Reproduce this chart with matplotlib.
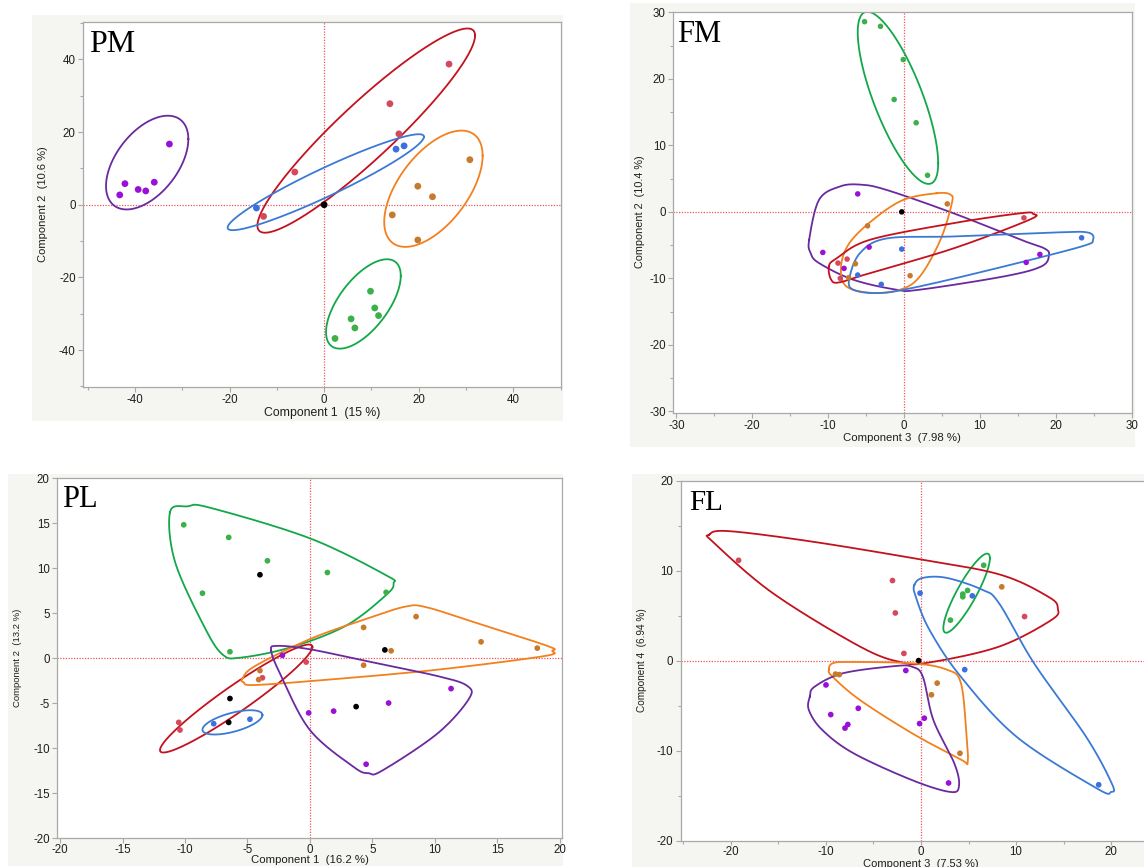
import numpy as np
import matplotlib
matplotlib.use("Agg")
import matplotlib.pyplot as plt
from matplotlib.patches import Rectangle

# ---------------- data ----------------
GROUPS = ["purple", "red", "blue", "orange", "green", "black"]

# PM : Component 1 vs Component 2
PM_X = {
    "purple": [-43.2, -42.1, -39.3, -37.7, -35.9, -32.7],
    "red":    [26.4, 13.9, 15.8, -6.2, -12.8],
    "blue":   [-14.3, 15.2, 16.9],
    "orange": [30.8, 19.8, 22.9, 14.4, 19.8],
    "green":  [9.8, 10.7, 11.5, 5.7, 6.5, 2.3],
    "black":  [0.0],
}
PM_Y = {
    "purple": [2.7, 5.8, 4.2, 3.8, 6.2, 16.7],
    "red":    [38.7, 27.8, 19.5, 9.0, -3.2],
    "blue":   [-0.9, 15.3, 16.2],
    "orange": [12.4, 5.1, 2.2, -2.8, -9.7],
    "green":  [-23.8, -28.4, -30.5, -31.4, -33.9, -36.8],
    "black":  [0.0],
}
# ellipses: centre x, centre y, half-width x, half-height y, correlation
PM_ELLIPSES = {
    "purple": (-37.4, 11.6, 8.7, 12.9, 0.50),
    "red":    (8.9, 20.4, 23.0, 28.1, 0.93),
    "blue":   (0.35, 6.2, 20.75, 13.2, 0.947),
    "orange": (23.1, 4.4, 10.4, 16.0, 0.57),
    "green":  (8.3, -27.3, 7.9, 12.3, 0.63),
}

# FM : Component 3 vs Component 2
FM_X = {
    "purple": [-6.1, -10.7, -4.6, -7.9, 16.1, 17.9],
    "red":    [15.8, -7.5, -8.7, -8.4],
    "blue":   [23.4, -0.3, -6.1, -3.0],
    "orange": [5.7, -4.8, -6.4, -7.3, 0.8],
    "green":  [-5.2, -3.1, -0.1, -1.3, 1.6, 3.1],
    "black":  [-0.3],
}
FM_Y = {
    "purple": [2.7, -6.1, -5.3, -8.5, -7.6, -6.4],
    "red":    [-0.9, -7.1, -7.7, -10.0],
    "blue":   [-3.9, -5.6, -9.5, -10.9],
    "orange": [1.2, -2.1, -7.8, -9.9, -9.6],
    "green":  [28.6, 27.9, 22.9, 16.9, 13.4, 5.5],
    "black":  [0.0],
}
FM_ELLIPSES = {
    "green": (-0.8, 17.15, 5.3, 12.95, -0.76),
}
FM_OUTLINES = {
    "purple": ([-12.5, -11.2, -8.5, -5.8, -2.3, 6.5, 15.4, 18.5, 19.1, 18.1, 13.2, 2.1, -1.0, -6.7, -11.2, -12.3],
               [-4.2, 1.8, 3.8, 4.1, 3.3, -0.2, -4.2, -5.5, -6.5, -8.2, -9.7, -11.7, -11.7, -10.2, -7.7, -6.2]),
    "orange": ([4.3, 6.1, 6.3, 4.8, 2.1, -0.5, -4.1, -7.6, -8.3, -7.2, -4.1, -0.1],
               [2.8, 2.6, 1.3, -4.2, -9.7, -11.7, -12.2, -11.2, -8.2, -4.7, -1.2, 1.8]),
    "red":    ([-9.9, -8.9, -4.5, 6.5, 15.4, 17.0, 16.5, 6.5, -4.5, -8.5, -9.6],
               [-8.2, -7.0, -4.2, -1.7, -0.2, -0.3, -1.2, -5.5, -9.2, -10.6, -10.2]),
    "blue":   ([-7.2, -5.8, -2.3, 6.5, 19.8, 24.2, 24.9, 23.4, 13.2, 2.1, -3.2, -6.7],
               [-10.0, -6.2, -4.0, -3.7, -3.1, -3.1, -4.2, -5.2, -8.2, -11.2, -12.2, -11.7]),
}

# PL : Component 1 vs Component 2
PL_X = {
    "purple": [-2.2, -0.1, 1.9, 6.3, 11.3, 4.5],
    "red":    [-3.8, -0.3, -10.5, -10.4],
    "blue":   [-7.7, -4.8],
    "orange": [8.5, 4.3, 13.7, 18.2, 6.5, 4.3, -4.0, -4.1],
    "green":  [-10.1, -6.5, -3.4, 1.4, -8.6, 6.1, -6.4],
    "black":  [-4.0, 6.0, -6.4, 3.7, -6.5],
}
PL_Y = {
    "purple": [0.3, -6.1, -5.9, -5.0, -3.4, -11.8],
    "red":    [-2.2, -0.45, -7.15, -8.0],
    "blue":   [-7.3, -6.8],
    "orange": [4.6, 3.4, 1.8, 1.1, 0.8, -0.8, -1.4, -2.4],
    "green":  [14.8, 13.4, 10.8, 9.5, 7.2, 7.3, 0.7],
    "black":  [9.25, 0.9, -4.5, -5.4, -7.15],
}
PL_ELLIPSES = {
    "red":  (-5.9, -4.5, 6.1, 6.0, 0.955),
    "blue": (-6.2, -7.15, 2.4, 1.35, 0.6),
}
PL_OUTLINES = {
    "green":  ([-11.2, -9.8, -8.0, 0.0, 6.1, 6.7, 6.1, 2.9, -1.5, -5.5, -7.0, -8.5, -10.8],
               [16.2, 16.85, 16.7, 13.3, 9.2, 8.3, 7.0, 3.6, 1.2, 0.05, 0.4, 3.6, 10.7]),
    "orange": ([-5.4, -4.4, 0.0, 4.4, 7.6, 9.3, 13.1, 19.0, 19.4, 18.7, 10.2, 1.5, -4.4, -5.3],
               [-2.3, -0.9, 2.1, 4.3, 5.7, 5.65, 4.0, 1.35, 0.8, 0.2, -1.3, -2.4, -3.0, -2.7]),
    "purple": ([-3.1, -2.6, 0.0, 4.4, 10.2, 12.6, 12.7, 10.2, 5.8, 4.7, 3.5, 0.0, -2.3],
               [0.8, 1.35, 0.97, -0.3, -2.0, -3.1, -4.6, -8.4, -12.5, -12.8, -12.1, -8.0, -2.0]),
}

# FL : Component 3 vs Component 4
FL_X = {
    "purple": [-1.6, -10.0, -9.5, -6.6, -7.7, -8.0, -0.15, 0.35, 2.9],
    "red":    [-19.2, -3.0, -2.7, -1.8, 10.9],
    "blue":   [-0.1, 5.4, 4.6, 18.7],
    "orange": [8.5, -9.0, -8.6, 1.7, 1.1, 4.1],
    "green":  [6.6, 4.9, 4.4, 4.4, 3.1],
    "black":  [-0.25],
}
FL_Y = {
    "purple": [-1.1, -2.7, -6.0, -5.3, -7.1, -7.5, -7.0, -6.4, -13.6],
    "red":    [11.15, 8.9, 5.3, 0.8, 4.9],
    "blue":   [7.5, 7.2, -1.0, -13.8],
    "orange": [8.2, -1.5, -1.55, -2.5, -3.8, -10.3],
    "green":  [10.6, 7.8, 7.4, 7.1, 4.5],
    "black":  [0.0],
}
FL_ELLIPSES = {
    "green": (4.8, 7.5, 2.45, 4.4, 0.88),
}
FL_OUTLINES = {
    "red":    ([-22.3, -20.3, -11.9, -0.9, 8.2, 13.4, 14.4, 13.7, 8.2, 0.9, -2.0, -6.4, -15.6, -21.8],
               [14.0, 14.4, 13.3, 11.4, 9.6, 7.1, 5.8, 4.5, 1.55, -0.2, -0.2, 1.55, 7.5, 13.1]),
    "blue":   ([-0.7, 0.2, 2.7, 6.4, 8.2, 11.9, 17.4, 20.1, 20.0, 18.5, 10.1, 4.2, 0.9, -0.55],
               [8.4, 9.2, 9.2, 7.9, 6.4, -0.3, -8.5, -13.7, -14.6, -14.2, -8.5, -1.8, 3.4, 7.1]),
    "orange": ([-9.7, -9.3, -7.5, -0.9, 2.7, 4.2, 4.8, 4.9, 4.2, -0.9, -6.4, -9.3],
               [-1.0, -0.3, -0.15, -0.3, -1.0, -2.5, -8.5, -11.3, -11.0, -8.1, -4.4, -1.8]),
    "purple": ([-11.7, -11.2, -8.2, -2.7, -0.9, 0.2, 1.3, 3.5, 4.0, 3.1, -0.9, -7.1, -10.4, -11.8],
               [-4.0, -2.9, -1.4, -0.6, -0.7, -1.8, -6.6, -11.4, -13.9, -14.6, -13.3, -10.3, -7.7, -5.5]),
}

# ---------------- styling ----------------
PT_COLORS = {"purple": "#9B10D6", "red": "#D44A5C", "blue": "#3D6FE0",
             "orange": "#C77A2E", "green": "#3DB04A", "black": "#000000"}
LN_COLORS = {"purple": "#6A2A9E", "red": "#C3121E", "blue": "#3B7AD4",
             "orange": "#F2801F", "green": "#12A848"}
BG = "#F5F5F1"
SPINE = "#A9A9A9"
W, H = 1144, 867

plt.rcParams["font.family"] = ["Liberation Sans", "DejaVu Sans"]

fig = plt.figure(figsize=(W / 100, H / 100), dpi=100)
fig.patch.set_facecolor("white")


def px_rect(x0, y0, x1, y1):
    return [x0 / W, 1 - y1 / H, (x1 - x0) / W, (y1 - y0) / H]


def add_bg(x0, y0, x1, y1):
    fig.patches.append(Rectangle((x0 / W, 1 - y1 / H), (x1 - x0) / W, (y1 - y0) / H,
                                 transform=fig.transFigure, facecolor=BG,
                                 edgecolor="none", zorder=0))


def ellipse(cx, cy, rx, ry, rho, n=300):
    t = np.linspace(0, 2 * np.pi, n)
    return cx + rx * np.cos(t), cy + ry * (rho * np.cos(t) + np.sqrt(1 - rho ** 2) * np.sin(t))


def closed_curve(xs, ys, n=40):
    P = np.column_stack([xs, ys]).astype(float)
    N = len(P)
    out = []
    t = np.linspace(0, 1, n, endpoint=False)[:, None]
    for i in range(N):
        p0, p1, p2, p3 = P[(i - 1) % N], P[i], P[(i + 1) % N], P[(i + 2) % N]
        seg = 0.5 * ((2 * p1) + (-p0 + p2) * t + (2 * p0 - 5 * p1 + 4 * p2 - p3) * t ** 2
                     + (-p0 + 3 * p1 - 3 * p2 + p3) * t ** 3)
        out.append(seg)
    out.append(P[:1])
    C = np.vstack(out)
    return C[:, 0], C[:, 1]


def make_panel(box, xlim, ylim, xmaj, xmin, ymaj, ymin, xlabel, ylabel,
               xl_pos, yl_pos, xl_size, yl_size, title, title_pos, title_size,
               X, Y, ell, outl, msize, right_spine=True, xpad=2, xtick_len=3.5):
    ax = fig.add_axes(px_rect(*box))
    ax.set_facecolor("white")
    ax.set_zorder(2)
    ax.set_xlim(*xlim)
    ax.set_ylim(*ylim)
    ax.set_xticks(xmaj)
    ax.set_xticks(xmin, minor=True)
    ax.set_yticks(ymaj)
    ax.set_yticks(ymin, minor=True)
    ax.set_xticklabels([f"{v:g}" for v in xmaj])
    ax.set_yticklabels([f"{v:g}" for v in ymaj])
    ax.tick_params(which="both", direction="out", color=SPINE, width=0.8,
                   labelsize=8.3, labelcolor="#1E1E1E", pad=2)
    ax.tick_params(which="major", length=3.5)
    ax.tick_params(which="minor", length=2.5)
    ax.tick_params(axis="x", which="both", pad=xpad)
    ax.tick_params(axis="x", which="major", length=xtick_len)
    for s in ax.spines.values():
        s.set_color(SPINE)
        s.set_linewidth(0.9)
    if not right_spine:
        ax.spines["right"].set_visible(False)
    ax.axhline(0, color="#F2555F", lw=0.9, ls=(0, (1, 1.2)), zorder=1)
    ax.axvline(0, color="#F2555F", lw=0.9, ls=(0, (1, 1.2)), zorder=1)

    for g, prm in ell.items():
        ex, ey = ellipse(*prm)
        ax.plot(ex, ey, color=LN_COLORS[g], lw=1.3, zorder=2)
    for g, (cx, cy) in outl.items():
        ox, oy = closed_curve(cx, cy)
        ax.plot(ox, oy, color=LN_COLORS[g], lw=1.3, zorder=2)
    for g in GROUPS:
        if g in X:
            ax.scatter(X[g], Y[g], s=msize, color=PT_COLORS[g], edgecolors="none", zorder=3)

    x0, y0, x1, y1 = box
    ax.set_xlabel(xlabel, fontsize=xl_size, color="#1E1E1E", va="center", ha="center")
    ax.set_ylabel(ylabel, fontsize=yl_size, color="#1E1E1E", va="center", ha="center")
    ax.xaxis.set_label_coords((xl_pos[0] - x0) / (x1 - x0), (y1 - xl_pos[1]) / (y1 - y0))
    ax.yaxis.set_label_coords((yl_pos[0] - x0) / (x1 - x0), (y1 - yl_pos[1]) / (y1 - y0))
    ax.text((title_pos[0] - x0) / (x1 - x0), (y1 - title_pos[1]) / (y1 - y0), title,
            transform=ax.transAxes, fontsize=title_size, family=["Liberation Serif", "DejaVu Serif"],
            ha="left", va="baseline", color="#000000", zorder=5)
    return ax


# backgrounds of the four screenshots
add_bg(32, 15, 563, 421)
add_bg(630, 3, 1135, 447)
add_bg(8, 474, 563, 866)
add_bg(632, 474, 1144, 867)

# PM
make_panel((83.3, 22.3, 560.7, 386.7), (-50.9, 49.9), (-50.07, 50.2),
           [-40, -20, 0, 20, 40], [-50, -30, -10, 10, 30, 50],
           [-40, -20, 0, 20, 40], [-50, -30, -10, 10, 30, 50],
           "Component 1  (15 %)", "Component 2  (10.6 %)",
           (322, 413), (43, 204), 8.8, 8.0, "PM", (89, 52), 23,
           PM_X, PM_Y, PM_ELLIPSES, {}, 24)

# FM
make_panel((673.3, 11.7, 1131.7, 412.7), (-30.4, 29.9), (-30.2, 30.1),
           [-30, -20, -10, 0, 10, 20, 30], [-25, -15, -5, 5, 15, 25],
           [-30, -20, -10, 0, 10, 20, 30], [-25, -15, -5, 5, 15, 25],
           "Component 3  (7.98 %)", "Component 2  (10.4 %)",
           (902, 438), (640, 212), 8.2, 7.8, "FM", (677, 42), 22,
           FM_X, FM_Y, FM_ELLIPSES, FM_OUTLINES, 16)

# PL
make_panel((57.3, 478, 562, 838.3), (-20.22, 20.18), (-20.03, 20.0),
           [-20, -15, -10, -5, 0, 5, 10, 15, 20], [],
           [-20, -15, -10, -5, 0, 5, 10, 15, 20], [],
           "Component 1  (16.2 %)", "Component 2  (13.2 %)",
           (310, 860), (18, 658), 8.2, 6.8, "PL", (62, 507), 22,
           PL_X, PL_Y, PL_ELLIPSES, PL_OUTLINES, 17, xpad=0.8)

# FL
make_panel((681, 480.7, 1161, 841), (-25.26, 25.26), (-20.05, 20.0),
           [-20, -10, 0, 10, 20], [-25, -15, -5, 5, 15, 25],
           [-20, -10, 0, 10, 20], [-15, -5, 5, 15],
           "Component 3  (7.53 %)", "Component 4  (6.94 %)",
           (921, 864), (642, 660), 8.0, 7.2, "FL", (689, 510), 21,
           FL_X, FL_Y, FL_ELLIPSES, FL_OUTLINES, 17, right_spine=False,
           xpad=0.5, xtick_len=2.8)

fig.savefig("out.png", dpi=100, facecolor="white")
